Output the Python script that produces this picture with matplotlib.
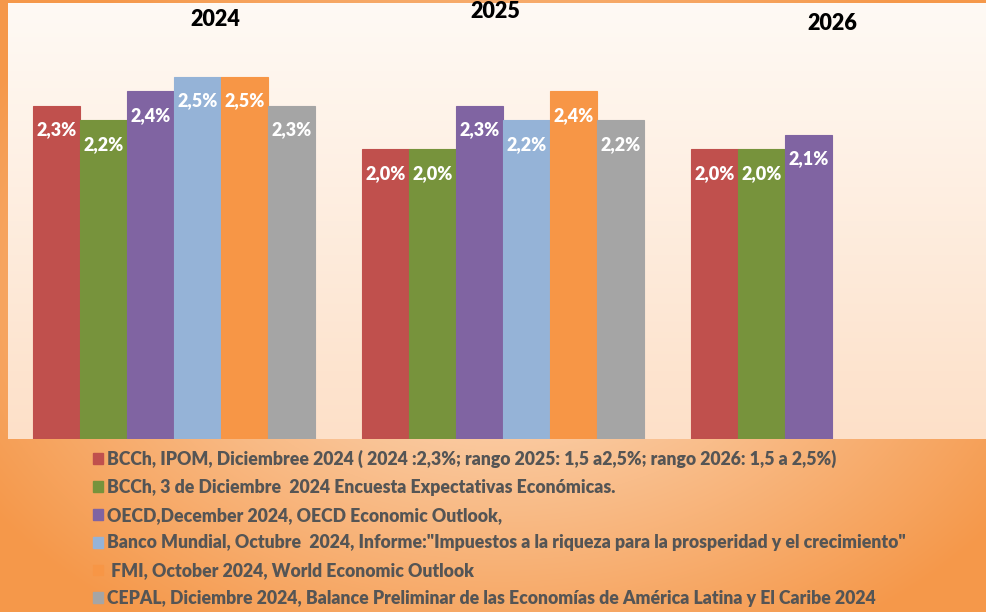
import numpy as np
import matplotlib
matplotlib.use("Agg")
import matplotlib.pyplot as plt
from matplotlib.colors import LinearSegmentedColormap, to_rgb
from matplotlib.patches import Patch

# ---------------- data ----------------
years = ["2024", "2025", "2026"]
series_labels = [
    "BCCh, IPOM, Diciembree 2024 ( 2024 :2,3%; rango 2025: 1,5 a2,5%; rango 2026: 1,5 a 2,5%)",
    "BCCh, 3 de Diciembre  2024 Encuesta Expectativas Económicas.",
    "OECD,December 2024, OECD Economic Outlook,",
    "Banco Mundial, Octubre  2024, Informe:\"Impuestos a la riqueza para la prosperidad y el crecimiento\"",
    " FMI, October 2024, World Economic Outlook",
    "CEPAL, Diciembre 2024, Balance Preliminar de las Economías de América Latina y El Caribe 2024",
]
bcch_ipom = [2.3, 2.0, 2.0]
bcch_encuesta = [2.2, 2.0, 2.0]
oecd = [2.4, 2.3, 2.1]
banco_mundial = [2.5, 2.2, None]
fmi = [2.5, 2.4, None]
cepal = [2.3, 2.2, None]
series_values = [bcch_ipom, bcch_encuesta, oecd, banco_mundial, fmi, cepal]
colors = ["#c0504d", "#77933c", "#8064a2", "#95b3d7", "#f79646", "#a5a5a5"]

# ---------------- figure ----------------
W, H = 986, 612
fig = plt.figure(figsize=(W / 100, H / 100), dpi=100)

# orange radial background
bg = fig.add_axes([0, 0, 1, 1], zorder=0)
yy, xx = np.mgrid[0:H, 0:W]
d = np.sqrt(((xx - 500) / 600.0) ** 2 + ((yy - 300) / 400.0) ** 2)
d = np.clip(d, 0, 1)
c0 = np.array(to_rgb("#fde2ca"))
c1 = np.array(to_rgb("#f5984a"))
img = c0[None, None, :] * (1 - d[..., None]) + c1[None, None, :] * d[..., None]
bg.imshow(img, extent=[0, 1, 0, 1], aspect="auto", origin="upper")
bg.set_axis_off()

# plot area
left_px, right_px, top_px, bot_px = 8, 986, 3, 439
ax = fig.add_axes([left_px / W, 1 - bot_px / H, (right_px - left_px) / W, (bot_px - top_px) / H], zorder=1)
grad = np.linspace(0, 1, 256)[:, None]
cmap = LinearSegmentedColormap.from_list("pa", ["#fffaf5", "#fde0c8"])
ax.imshow(grad, extent=[0, 1, 0, 1], transform=ax.transAxes, cmap=cmap, aspect="auto", origin="upper", zorder=0)

x = np.arange(len(years))
w = 1 / 7
label_font = ["Lato", "DejaVu Sans"]
for j, (vals, col) in enumerate(zip(series_values, colors)):
    for i, v in enumerate(vals):
        if v is None:
            continue
        xpos = x[i] + (j - 2.5) * w
        ax.bar(xpos, v, width=w, color=col, edgecolor=col, linewidth=0.8, zorder=2)
        ax.annotate(f"{v:.1f}%".replace(".", ","), (xpos, v), xytext=(0, -17.5),
                    textcoords="offset points", ha="center", va="center",
                    color="white", fontsize=13, fontweight="heavy", family=label_font, zorder=3)

ax.set_xlim(-0.5046, 2.468)
ax.set_ylim(0, 3.007)
ax.set_axis_off()

# year labels
year_pos = [(215, 19.5), (495, 12), (832, 24)]
for yl, (px, py) in zip(years, year_pos):
    fig.text(px / W, 1 - py / H, yl, ha="center", va="center", fontsize=15.5,
             fontweight="heavy", family=label_font, color="black", zorder=5)

# legend
handles = [Patch(facecolor=c, edgecolor=c) for c in colors]
leg = fig.legend(handles, series_labels, loc="upper left",
                 bbox_to_anchor=(93 / W, 1 - 450 / H), frameon=False,
                 prop={"family": label_font, "weight": "heavy", "size": 12.7},
                 labelcolor="#555555", handlelength=0.57, handleheight=0.57,
                 handletextpad=0.25, labelspacing=0.61, borderaxespad=0, borderpad=0)
leg.set_zorder(5)

fig.savefig("out.png", dpi=100)
